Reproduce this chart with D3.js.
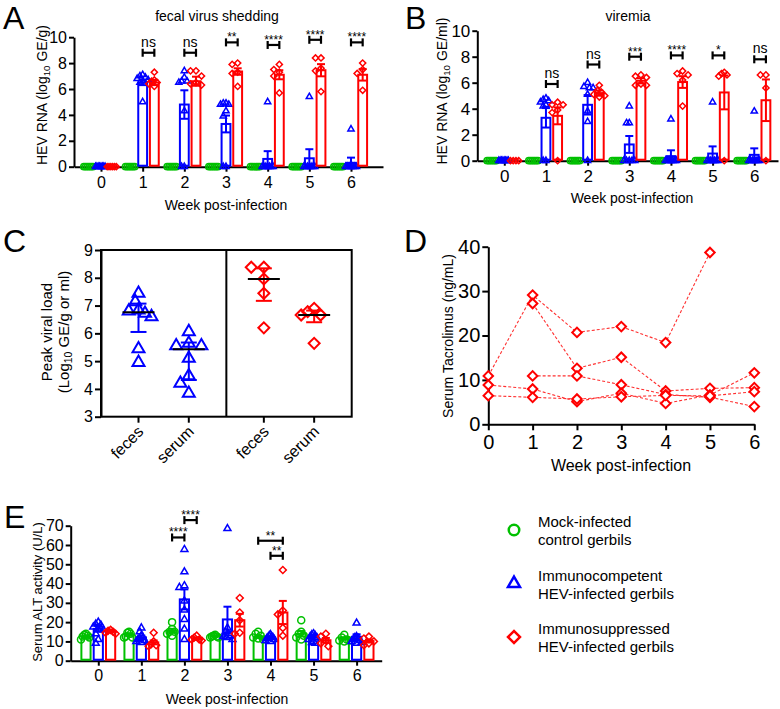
<!DOCTYPE html>
<html><head><meta charset="utf-8">
<script src="https://cdn.jsdelivr.net/npm/d3@7"></script>
<style>body{margin:0;background:#fff;} text{font-family:"Liberation Sans", Arial, sans-serif;}</style>
</head><body><svg id="c" width="780" height="709"></svg>
<script>
// ---------------- DATA ----------------
const weeks = [0,1,2,3,4,5,6];
const groupNames = ["Mock-infected|control gerbils","Immunocompetent|HEV-infected gerbils","Immunosuppressed|HEV-infected gerbils"];
const colMock = "#00c000", colComp = "#0000ff", colSupp = "#ff0000";

// Panel A: fecal virus shedding (log10 GE/g)
const fecalMockMean = [0,0,0,0,0,0,0];
const fecalMockSem  = [0,0,0,0,0,0,0];
const fecalCompMean = [0, 6.5, 4.8, 3.3, 0.6, 0.65, 0.3];
const fecalCompSem  = [0, 0.2, 1.1, 0.65, 0.6, 0.7, 0.4];
const fecalSuppMean = [0, 6.5, 6.6, 7.35, 7.1, 7.45, 7.1];
const fecalSuppSem  = [0, 0.2, 0.35, 0.25, 0.35, 0.47, 0.45];
const fecalMockPts = [[0,0,0,0,0,0],[0,0,0,0,0,0],[0,0,0,0,0,0],[0,0,0,0,0,0],[0,0,0,0,0,0],[0,0,0,0,0,0],[0,0,0,0,0,0]];
const fecalCompPts = [[0,0,0,0,0,0,0,0],[7.1,7.0,6.9,6.8,6.7,6.6,6.5,5.0],[7.4,6.9,6.6,6.6,6.5,4.3,0,0],[4.9,4.9,4.8,4.8,4.3,3.9,0,0],[5.0,0,0,0,0,0,0,0],[5.4,0,0,0,0,0,0,0],[2.9,0,0,0,0,0,0,0]];
const fecalSuppPts = [[0,0,0,0,0,0],[7.3,6.7,6.6,6.5,6.4,6.2],[7.4,7.4,7.0,6.5,6.4,6.3],[8.0,7.9,7.3,7.2,6.2],[7.9,7.5,7.3,7.0,5.7],[8.4,8.4,7.6,7.4,5.8],[8.0,7.5,7.2,5.9]];
const fecalSigLabels = ["","ns","ns","**","****","****","****"];
const fecalSigY = [0, 8.8, 8.8, 9.6, 9.4, 9.8, 9.6];
const fecalYTicks = [0,2,4,6,8,10];

// Panel B: viremia (log10 GE/ml)
const viremiaMockMean = [0,0,0,0,0,0,0];
const viremiaMockSem  = [0,0,0,0,0,0,0];
const viremiaCompMean = [0, 3.3, 4.3, 1.25, 0.35, 0.55, 0.45];
const viremiaCompSem  = [0, 0.75, 0.75, 0.65, 0.45, 0.55, 0.5];
const viremiaSuppMean = [0, 3.45, 5.2, 6.15, 6.05, 5.25, 4.65];
const viremiaSuppSem  = [0, 0.65, 0.2, 0.2, 0.45, 1.3, 1.6];
const viremiaMockPts = [[0,0,0,0,0,0],[0,0,0,0,0,0],[0,0,0,0,0,0],[0,0,0,0,0,0],[0,0,0,0,0,0],[0,0,0,0,0,0],[0,0,0,0,0,0]];
const viremiaCompPts = [[0,0,0,0,0,0,0,0],[4.8,4.7,4.6,4.5,4.3,4.2,0,0],[6.0,5.7,5.6,5.6,5.1,3.8,3.0,0],[4.2,2.9,2.9,0,0,0,0,0],[3.2,0,0,0,0,0,0,0],[4.5,0,0,0,0,0,0,0],[3.8,0,0,0,0,0,0,0]];
const viremiaSuppPts = [[0,0,0,0],[4.5,4.3,4.3,3.9,3.7,0],[5.8,5.4,5.3,5.1,5.0,4.9],[6.6,6.5,6.4,5.9,5.8,5.8],[6.9,6.7,6.6,6.2,4.2],[6.8,6.7,6.6,6.5,0],[6.6,6.6,5.6,0]];
const viremiaSigLabels = ["","ns","ns","***","****","*","ns"];
const viremiaSigY = [0, 5.9, 7.4, 8.0, 8.1, 8.1, 7.8];
const viremiaYTicks = [0,2,4,6,8,10];

// Panel C: peak viral load
const peakGroups = ["comp","supp"];
const peakSamples = ["feces","serum"];
const peakCompFeces = [7.44, 7.14, 6.84, 6.8, 6.72, 6.6, 5.44, 4.95];
const peakCompSerum = [6.06, 5.64, 5.55, 5.55, 5.1, 4.47, 4.2, 3.84];
const peakSuppFeces = [8.38, 8.38, 7.96, 7.44, 6.2];
const peakSuppSerum = [6.9, 6.78, 6.66, 6.66, 5.64];
const peakMedian = [6.76, 5.43, 7.96, 6.66];
const peakQ1 = [6.05, 4.32, 7.17, 6.4];
const peakQ3 = [7.07, 5.67, 8.34, 6.82];
const peakYTicks = [3,4,5,6,7,8,9];

// Panel D: serum tacrolimus (ng/mL), one array per animal
const tacroAnimal1 = [10.9, 29.1, 20.7, 22.0, 18.4, 38.7, null];
const tacroAnimal2 = [null, 27.2, 12.6, 15.1, 7.5, 8.1, 8.25];
const tacroAnimal3 = [null, 10.9, 10.9, 8.9, 6.7, 6.1, 4.0];
const tacroAnimal4 = [8.85, 7.95, 5.1, 7.0, 4.7, 6.6, 11.6];
const tacroAnimal5 = [6.45, 6.07, 5.7, 6.2, 6.5, 6.4, 7.35];
const tacroYTicks = [0,10,20,30,40];

// Panel E: serum ALT activity (U/L)
const altMockMean = [12.4, 13.6, 15.5, 12.8, 12.4, 14.0, 11.6];
const altMockSem  = [0.6, 0.7, 1.0, 0.3, 0.6, 1.4, 0.6];
const altCompMean = [16.5, 12.1, 31.8, 21.4, 12.1, 12.8, 12.4];
const altCompSem  = [1.5, 0.9, 5.2, 6.6, 0.5, 0.8, 1.3];
const altSuppMean = [15.5, 9.5, 11.5, 21.0, 25.0, 10.6, 10.2];
const altSuppSem  = [0.6, 1.0, 0.6, 3.3, 6.0, 1.2, 0.8];
const altMockPts = [[14,13.5,13,12.5,12,11],[15,14.5,14,12.5,12,12],[20,16.5,15,15,14,13],[13.5,13,12.5,12.5,12,12],[15,14,13,12,11.5,11],[21,15,14,13,12,11],[13.5,12,11,10.5,10.5,10]];
const altCompPts = [[20,19,18.5,17.5,16.5,16,14,11,9],[17,15,13,12,11.5,11,10.5,10,9.5],[57.7,46.1,38.9,38.0,31,26.3,21.4,16.4,11],[68.5,17,15,14,13,12.5,12,11],[13.5,13,12.5,12,12,11.5,11,10.5,10],[14,13.5,13,12.5,12,11,10,9.5,9],[19.5,12.5,12,11.5,11,10.5,10,9.5,9]];
const altSuppPts = [[16,15.5,15,14.5,14],[14.5,10,8.5,8,7.5],[13,12,11,11,10.5],[32.5,25,21,14.5,14],[47,26,24,17,13],[14,12.5,10.5,9,7.5],[12.5,11.5,10,9,8]];
const altSigWeek = [2, 2, 4, 4];
const altSigFrom = [-1, 0, -1, 0];
const altSigTo   = [0, 1, 1, 1];
const altSigY    = [63.9, 72.9, 62.2, 54.4];
const altSigLabels = ["****","****","**","**"];
const altYTicks = [0,10,20,30,40,50,60,70];

// ---------------- HELPERS ----------------
const svg = d3.select("#c");
const FONT = "Liberation Sans, Arial, sans-serif";
const fmtInt = d3.format("d");

function symPath(shape, w) {
  if (shape === "circle") return d3.symbol(d3.symbolCircle, Math.PI * (w/2) * (w/2))();
  if (shape === "triangle") return d3.symbol(d3.symbolTriangle, Math.sqrt(3)/4 * w * w)();
  return d3.symbol(d3.symbolSquare, w * w / 2)();
}
function symRot(shape) { return shape === "diamond" ? " rotate(45)" : ""; }

function swarm(vals, ys, diam, step, maxOff) {
  const idx = vals.map((v, i) => i).sort((a, b) => vals[b] - vals[a]);
  const off = vals.map(() => 0);
  const placed = [];
  for (const i of idx) {
    const y = ys(vals[i]);
    for (let k = 0; k < 400; k++) {
      const o = k === 0 ? 0 : (k % 2 ? -1 : 1) * Math.ceil(k / 2) * step;
      if (placed.every(p => Math.hypot(p.o - o, p.y - y) >= diam)) { off[i] = o; placed.push({o, y}); break; }
    }
  }
  const m = d3.max(off, d => Math.abs(d));
  if (m > maxOff) for (let i = 0; i < off.length; i++) off[i] *= maxOff / m;
  return off;
}

function styleAxis(g, fs) {
  g.select(".domain").attr("stroke", "#000").attr("stroke-width", 2);
  g.selectAll(".tick line").attr("stroke", "#000").attr("stroke-width", 2);
  g.selectAll(".tick text").attr("fill", "#000").attr("font-size", fs).attr("font-family", FONT);
}

function addText(x, y, str, fs, anchor, rot) {
  const t = svg.append("text").attr("font-size", fs).attr("text-anchor", anchor || "middle").attr("fill", "#000")
    .attr("transform", `translate(${x},${y})` + (rot ? ` rotate(${rot})` : ""));
  t.text(str);
  return t;
}

function bracket(g, x1, x2, y, label, fsLabel) {
  g.append("line").attr("x1", x1).attr("x2", x2).attr("y1", y).attr("y2", y).attr("stroke", "#000").attr("stroke-width", 2.2);
  [x1, x2].forEach(x => g.append("line").attr("x1", x).attr("x2", x).attr("y1", y - 4).attr("y2", y + 4).attr("stroke", "#000").attr("stroke-width", 2.2));
  const isStar = label.indexOf("*") >= 0;
  g.append("text").attr("x", (x1 + x2) / 2).attr("y", isStar ? y - 1 : y - 6)
    .attr("text-anchor", "middle").attr("font-size", isStar ? 12 : fsLabel).attr("fill", "#000").text(label);
}

function barPanel(o) {
  const g = svg.append("g");
  const y0 = o.y(0);
  const gx = g.append("g").attr("transform", `translate(0,${y0})`)
    .call(d3.axisBottom(o.x).tickValues(weeks).tickFormat(fmtInt).tickSize(5).tickSizeOuter(0).tickPadding(o.xPad));
  styleAxis(gx, o.fs);
  const gy = g.append("g").attr("transform", `translate(${o.x.range()[0]},0)`)
    .call(d3.axisLeft(o.y).tickValues(o.yTicks).tickFormat(fmtInt).tickSize(5).tickSizeOuter(0).tickPadding(2));
  styleAxis(gy, o.fs);
  const off = o.off, bw = o.bw;
  const pxW = o.x(bw) - o.x(0);
  o.series.forEach(s => {
    weeks.forEach((w, i) => {
      const c = w + s.slot * off;
      const cx = o.x(c);
      const m = s.means[i];
      if (m > 0) {
        g.append("rect").attr("x", cx - pxW / 2 + 1).attr("width", pxW - 2)
          .attr("y", o.y(m)).attr("height", y0 - o.y(m) - 1)
          .attr("fill", "none").attr("stroke", s.color).attr("stroke-width", 2);
      }
      const offs = swarm(s.pts[i], o.y, o.diam, o.diam / 2, o.maxOff);
      s.pts[i].forEach((v, j) => {
        g.append("path").attr("d", symPath(s.shape, o.msize))
          .attr("transform", `translate(${cx + offs[j]},${o.y(v)})` + symRot(s.shape))
          .attr("fill", "none").attr("stroke", s.color).attr("stroke-width", 1.5);
      });
      const se = s.sems[i];
      if (se > 0) {
        const yt = o.y(m + se), yb = o.y(Math.max(0, m - se));
        g.append("line").attr("x1", cx).attr("x2", cx).attr("y1", yt).attr("y2", yb).attr("stroke", s.color).attr("stroke-width", 2);
        [yt, yb].forEach(yy => g.append("line").attr("x1", cx - 4).attr("x2", cx + 4).attr("y1", yy).attr("y2", yy).attr("stroke", s.color).attr("stroke-width", 2));
      }
    });
  });
  o.sig.forEach(b => {
    bracket(g, o.x(b.week + b.from * off), o.x(b.week + b.to * off), o.y(b.y), b.label, 14);
  });
  return g;
}

function yLabelLog(x, y, pre, post, fs) {
  const t = svg.append("text").attr("font-size", fs).attr("text-anchor", "middle").attr("fill", "#000")
    .attr("transform", `translate(${x},${y}) rotate(-90)`).attr("dy", "0.35em");
  t.append("tspan").text(pre);
  t.append("tspan").attr("font-size", fs * 0.7).attr("dy", 3).text("10");
  t.append("tspan").attr("dy", -3).text(post);
  return t;
}

// ---------------- PANEL A ----------------
const xA = d3.scaleLinear().domain([-0.648, 6.768]).range([74, 383]);
const yA = d3.scaleLinear().domain([0, 10]).range([166.7, 37.2]);
barPanel({
  x: xA, y: yA, yTicks: fecalYTicks, fs: 16, xPad: 5, off: 0.28, bw: 0.26, diam: 6, maxOff: 5.5, msize: 6.2,
  series: [
    {means: fecalMockMean, sems: fecalMockSem, pts: fecalMockPts, color: colMock, shape: "circle", slot: -1},
    {means: fecalCompMean, sems: fecalCompSem, pts: fecalCompPts, color: colComp, shape: "triangle", slot: 0},
    {means: fecalSuppMean, sems: fecalSuppSem, pts: fecalSuppPts, color: colSupp, shape: "diamond", slot: 1}
  ],
  sig: weeks.filter((w, i) => fecalSigLabels[i] !== "").map(w => ({week: w, from: 0, to: 1, y: fecalSigY[w], label: fecalSigLabels[w]}))
});
addText(217, 21, "fecal virus shedding", 14);
yLabelLog(42, 95, "HEV RNA (log", " GE/g)", 14);
addText(226, 210, "Week post-infection", 14);
addText(3, 29, "A", 32, "start");

// ---------------- PANEL B ----------------
const xB = d3.scaleLinear().domain([-0.648, 6.57]).range([477.3, 778]);
const yB = d3.scaleLinear().domain([0, 10]).range([160.7, 30.7]);
barPanel({
  x: xB, y: yB, yTicks: viremiaYTicks, fs: 17, xPad: 4, off: 0.28, bw: 0.26, diam: 6, maxOff: 5.5, msize: 6.2,
  series: [
    {means: viremiaMockMean, sems: viremiaMockSem, pts: viremiaMockPts, color: colMock, shape: "circle", slot: -1},
    {means: viremiaCompMean, sems: viremiaCompSem, pts: viremiaCompPts, color: colComp, shape: "triangle", slot: 0},
    {means: viremiaSuppMean, sems: viremiaSuppSem, pts: viremiaSuppPts, color: colSupp, shape: "diamond", slot: 1}
  ],
  sig: weeks.filter((w, i) => viremiaSigLabels[i] !== "").map(w => ({week: w, from: 0, to: 1, y: viremiaSigY[w], label: viremiaSigLabels[w]}))
});
addText(628, 21, "viremia", 14);
yLabelLog(442, 91, "HEV RNA (log", " GE/ml)", 14);
addText(632, 203, "Week post-infection", 14);
addText(405, 29, "B", 32, "start");

// ---------------- PANEL C ----------------
(function() {
  const g = svg.append("g");
  const yC = d3.scaleLinear().domain([3, 9]).range([416.7, 250]);
  const xG = d3.scaleBand().domain(peakGroups).range([101, 351.7]);
  const xS = d3.scalePoint().domain(peakSamples).range([37.5, 87.8]);
  const left = xG.range()[0], right = xG.range()[1];
  g.append("rect").attr("x", left).attr("y", yC(9)).attr("width", right - left).attr("height", yC(3) - yC(9))
    .attr("fill", "none").attr("stroke", "#000").attr("stroke-width", 2);
  g.append("line").attr("x1", xG("supp")).attr("x2", xG("supp")).attr("y1", yC(9)).attr("y2", yC(3)).attr("stroke", "#000").attr("stroke-width", 2);
  const gy = g.append("g").attr("transform", `translate(${left},0)`)
    .call(d3.axisLeft(yC).tickValues(peakYTicks).tickFormat(fmtInt).tickSize(6).tickSizeOuter(0).tickPadding(2));
  styleAxis(gy, 16);
  const sets = [
    {grp: "comp", smp: "feces", pts: peakCompFeces, color: colComp, shape: "triangle"},
    {grp: "comp", smp: "serum", pts: peakCompSerum, color: colComp, shape: "triangle"},
    {grp: "supp", smp: "feces", pts: peakSuppFeces, color: colSupp, shape: "diamond"},
    {grp: "supp", smp: "serum", pts: peakSuppSerum, color: colSupp, shape: "diamond"}
  ];
  const c45 = Math.SQRT1_2;
  sets.forEach((s, k) => {
    const cx = xG(s.grp) + xS(s.smp);
    g.append("line").attr("x1", cx).attr("x2", cx).attr("y1", yC(3)).attr("y2", yC(3) + 6).attr("stroke", "#000").attr("stroke-width", 2);
    const lx = cx + 6, ly = yC(3) + 16;
    const lg = svg.append("g").attr("transform", `matrix(${c45},${-c45},${c45},${c45},${lx},${ly})`);
    lg.append("text").attr("x", 0).attr("y", 0).attr("font-size", 16).attr("text-anchor", "end").attr("fill", "#000").text(s.smp);
    const msz = s.shape === "triangle" ? 12 : 11;
    const offs = swarm(s.pts, yC, 9, 4.2, 13);
    s.pts.forEach((v, j) => {
      g.append("path").attr("d", symPath(s.shape, msz))
        .attr("transform", `translate(${cx + offs[j]},${yC(v)})` + symRot(s.shape))
        .attr("fill", "none").attr("stroke", s.color).attr("stroke-width", 2);
    });
    const yt = yC(peakQ3[k]), yb = yC(peakQ1[k]);
    g.append("line").attr("x1", cx).attr("x2", cx).attr("y1", yt).attr("y2", yb).attr("stroke", s.color).attr("stroke-width", 2);
    [yt, yb].forEach(yy => g.append("line").attr("x1", cx - 8).attr("x2", cx + 8).attr("y1", yy).attr("y2", yy).attr("stroke", s.color).attr("stroke-width", 2));
    g.append("line").attr("x1", cx - 16).attr("x2", cx + 16).attr("y1", yC(peakMedian[k])).attr("y2", yC(peakMedian[k])).attr("stroke", "#000").attr("stroke-width", 2);
  });
  addText(47, 332, "Peak viral load", 15, "middle", -90).attr("dy", "0.35em");
  yLabelLog(64, 332, "(Log", " GE/g or ml)", 15);
  addText(3, 252, "C", 32, "start");
})();

// ---------------- PANEL D ----------------
(function() {
  const g = svg.append("g");
  const xD = d3.scaleLinear().domain([0, 6]).range([488.3, 754.3]);
  const yD = d3.scaleLinear().domain([0, 40]).range([424.3, 246.7]);
  const gx = g.append("g").attr("transform", `translate(0,${yD(0)})`)
    .call(d3.axisBottom(xD).tickValues(weeks).tickFormat(fmtInt).tickSize(6).tickSizeOuter(0).tickPadding(5));
  styleAxis(gx, 20);
  const gy = g.append("g").attr("transform", `translate(${xD(0)},0)`)
    .call(d3.axisLeft(yD).tickValues(tacroYTicks).tickFormat(fmtInt).tickSize(6).tickSizeOuter(0).tickPadding(2));
  styleAxis(gy, 20);
  const animals = [tacroAnimal1, tacroAnimal2, tacroAnimal3, tacroAnimal4, tacroAnimal5];
  const line = d3.line().defined(d => d != null).x((d, i) => xD(weeks[i])).y(d => yD(d));
  animals.forEach(a => {
    g.append("path").attr("d", line(a)).attr("fill", "none").attr("stroke", "#ff3030")
      .attr("stroke-width", 1.1).attr("stroke-dasharray", "3,2");
  });
  animals.forEach(a => {
    a.forEach((v, i) => {
      if (v == null) return;
      g.append("path").attr("d", symPath("diamond", 9.5))
        .attr("transform", `translate(${xD(weeks[i])},${yD(v)})` + symRot("diamond"))
        .attr("fill", "#fff").attr("stroke", colSupp).attr("stroke-width", 2);
    });
  });
  addText(448, 336, "Serum Tacrolimus (ng/mL)", 14, "middle", -90).attr("dy", "0.35em");
  addText(621, 471, "Week post-infection", 16);
  addText(404, 252, "D", 32, "start");
})();

// ---------------- PANEL E ----------------
const xE = d3.scaleLinear().domain([-0.641, 6.583]).range([70.7, 381.7]);
const yE = d3.scaleLinear().domain([0, 70]).range([660.7, 525.7]);
barPanel({
  x: xE, y: yE, yTicks: altYTicks, fs: 16, xPad: 4, off: 0.286, bw: 0.26, diam: 6.5, maxOff: 5, msize: 7,
  series: [
    {means: altMockMean, sems: altMockSem, pts: altMockPts, color: colMock, shape: "circle", slot: -1},
    {means: altCompMean, sems: altCompSem, pts: altCompPts, color: colComp, shape: "triangle", slot: 0},
    {means: altSuppMean, sems: altSuppSem, pts: altSuppPts, color: colSupp, shape: "diamond", slot: 1}
  ],
  sig: altSigWeek.map((w, i) => ({week: w, from: altSigFrom[i], to: altSigTo[i], y: altSigY[i], label: altSigLabels[i]}))
});
addText(37, 592, "Serum ALT activity (U/L)", 13, "middle", -90).attr("dy", "0.35em");
addText(227, 704, "Week post-infection", 14);
addText(4, 528, "E", 32, "start");

// ---------------- LEGEND ----------------
(function() {
  const rows = d3.scalePoint().domain(groupNames).range([530, 637]);
  const shapes = ["circle", "triangle", "diamond"];
  const cols = [colMock, colComp, colSupp];
  groupNames.forEach((n, i) => {
    const y = rows(n);
    svg.append("path").attr("d", symPath(shapes[i], shapes[i] === "circle" ? 10.5 : 12))
      .attr("transform", `translate(514,${y})` + symRot(shapes[i]))
      .attr("fill", "none").attr("stroke", cols[i]).attr("stroke-width", 2.5);
    const parts = n.split("|");
    svg.append("text").attr("x", 538).attr("y", y - 3).attr("font-size", 15).attr("fill", "#000").text(parts[0]);
    svg.append("text").attr("x", 538).attr("y", y + 15).attr("font-size", 15).attr("fill", "#000").text(parts[1]);
  });
})();
</script>
</body></html>
